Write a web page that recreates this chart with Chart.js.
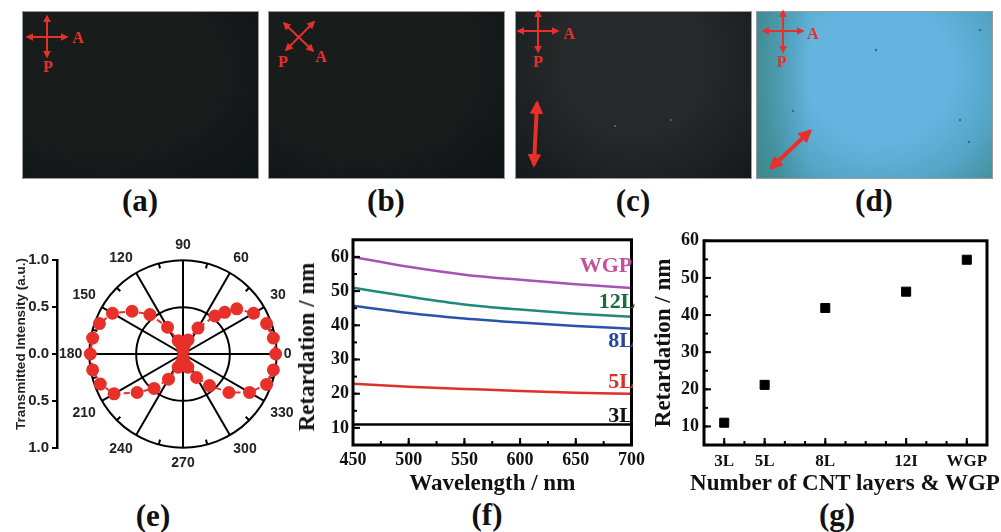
<!DOCTYPE html>
<html>
<head>
<meta charset="utf-8">
<title>Retardation panels</title>
<script src="https://cdn.jsdelivr.net/npm/chart.js@4/dist/chart.umd.min.js"></script>
<style>
html, body { margin: 0; padding: 0; background: #fff; }
#page { position: relative; width: 1001px; height: 532px; overflow: hidden; }
canvas { position: absolute; }
.photo { position: absolute; top: 11px; width: 237px; height: 168px; border: 1px solid #9a9a9a; box-sizing: border-box; }
#photo-a { left: 22px; background: radial-gradient(ellipse at 35% 35%, #181c1b 50%, #0e1316 100%); }
#photo-b { left: 268px; background: radial-gradient(ellipse at 40% 30%, #181c1b 55%, #0e1316 100%); }
#photo-c { left: 515px; background: radial-gradient(ellipse at 50% 30%, #25292a 45%, #15191c 100%); }
#photo-d { left: 756px; background: linear-gradient(90deg, rgba(60,135,135,0.75), rgba(60,135,135,0) 22%), radial-gradient(ellipse 72% 100% at 52% 36%, #64b4e0 42%, #56a6c9 68%, #3c8b94 100%); }
svg { position: absolute; left: 0; top: 0; }
.serif { position: absolute; font-family: "Liberation Serif", serif; font-weight: bold; transform: translate(-50%, -50%); white-space: nowrap; }
.panel { font-size: 31px; color: #111; }
.pol { font-size: 16px; color: #e8302a; }
.curve { font-size: 22px; }
.rot { transform: translate(-50%, -50%) rotate(-90deg); }
#e-title { position: absolute; left: 20px; top: 344px; font: bold 13.5px "Liberation Sans", sans-serif; color: #222; white-space: nowrap; transform: translate(-50%, -50%) rotate(-90deg); }
</style>
</head>
<body>
<div id="page">
  <div class="photo" id="photo-a"></div>
  <div class="photo" id="photo-b"></div>
  <div class="photo" id="photo-c"></div>
  <div class="photo" id="photo-d"></div>

  <svg width="1001" height="532">
    <defs>
      <marker id="head" viewBox="0 0 10 10" refX="8" refY="5" markerWidth="4" markerHeight="4" orient="auto-start-reverse">
        <path d="M0 0 L10 5 L0 10 Z" fill="#e8302a"></path>
      </marker>
      <marker id="big-head" viewBox="0 0 10 10" refX="8" refY="5" markerWidth="3.4" markerHeight="3.4" orient="auto-start-reverse">
        <path d="M0 0 L10 5 L0 10 Z" fill="#e8302a"></path>
      </marker>
    </defs>
    <g stroke="#e8302a" stroke-width="2">
      <line x1="27" y1="37" x2="67" y2="37" marker-start="url(#head)" marker-end="url(#head)"></line>
      <line x1="47" y1="16" x2="47" y2="57" marker-start="url(#head)" marker-end="url(#head)"></line>
      <line x1="284" y1="23" x2="313" y2="51" marker-start="url(#head)" marker-end="url(#head)"></line>
      <line x1="314" y1="22" x2="286" y2="50" marker-start="url(#head)" marker-end="url(#head)"></line>
      <line x1="518" y1="31" x2="558" y2="31" marker-start="url(#head)" marker-end="url(#head)"></line>
      <line x1="538" y1="11" x2="538" y2="52" marker-start="url(#head)" marker-end="url(#head)"></line>
      <line x1="763" y1="31" x2="803" y2="31" marker-start="url(#head)" marker-end="url(#head)"></line>
      <line x1="783" y1="11" x2="783" y2="52" marker-start="url(#head)" marker-end="url(#head)"></line>
    </g>
    <line x1="537" y1="103" x2="534" y2="165" stroke="#e8302a" stroke-width="4" marker-start="url(#big-head)" marker-end="url(#big-head)"></line>
    <line x1="810" y1="131" x2="771" y2="168" stroke="#e8302a" stroke-width="4" marker-start="url(#big-head)" marker-end="url(#big-head)"></line>
    <g fill="#2f6f80">
      <circle cx="876" cy="50" r="1.2"></circle>
      <circle cx="980" cy="30" r="1.2"></circle>
      <circle cx="793" cy="111" r="1.2"></circle>
      <circle cx="960" cy="120" r="1.2"></circle>
      <circle cx="969" cy="142" r="1.2"></circle>
    </g>
    <g fill="#9aa0a0">
      <circle cx="671" cy="120" r="0.8"></circle>
      <circle cx="615" cy="126" r="0.8"></circle>
    </g>
  </svg>

  <span class="serif pol" style="left:78px;top:38px">A</span>
  <span class="serif pol" style="left:48px;top:67px">P</span>
  <span class="serif pol" style="left:321px;top:57px">A</span>
  <span class="serif pol" style="left:283px;top:62px">P</span>
  <span class="serif pol" style="left:569px;top:34px">A</span>
  <span class="serif pol" style="left:538px;top:62px">P</span>
  <span class="serif pol" style="left:813px;top:34px">A</span>
  <span class="serif pol" style="left:782px;top:62px">P</span>

  <span class="serif panel" style="left:140px;top:201px">(a)</span>
  <span class="serif panel" style="left:386px;top:201px">(b)</span>
  <span class="serif panel" style="left:633px;top:201px">(c)</span>
  <span class="serif panel" style="left:874px;top:201px">(d)</span>
  <span class="serif panel" style="left:153px;top:516px">(e)</span>
  <span class="serif panel" style="left:487px;top:515px">(f)</span>
  <span class="serif panel" style="left:837px;top:515px">(g)</span>

  <canvas id="polar-axis" width="60" height="240" style="left:13px;top:234px"></canvas>
  <span id="e-title">Transmitted Intensity (a.u.)</span>
  <canvas id="polar-chart" width="248" height="248" style="left:52px;top:231px"></canvas>
  <canvas id="wavelength-chart" width="355" height="273" style="left:295px;top:225px"></canvas>
  <canvas id="layers-chart" width="351" height="273" style="left:650px;top:225px"></canvas>

  <span class="serif rot" style="left:307px;top:347px;font-size:23px;color:#111">Retardation / nm</span>
  <span class="serif" style="left:845px;top:483px;font-size:23px;color:#111">Number of CNT layers &amp; WGP</span>

  <span class="serif curve" style="left:606px;top:265px;color:#c4509c">WGP</span>
  <span class="serif curve" style="left:617px;top:301px;color:#1d6b3c">12L</span>
  <span class="serif curve" style="left:621px;top:340px;color:#27479c">8L</span>
  <span class="serif curve" style="left:621px;top:381px;color:#d9302c">5L</span>
  <span class="serif curve" style="left:621px;top:415px;color:#111">3L</span>
</div>

<script>
// (e) polar scan, angle in degrees going clockwise from 0 because radar runs clockwise
const polar_angles = [
    0, 355, 350, 345, 340, 335, 330, 325, 320, 315, 310, 305,
    300, 295, 290, 285, 280, 275, 270, 265, 260, 255, 250, 245,
    240, 235, 230, 225, 220, 215, 210, 205, 200, 195, 190, 185,
    180, 175, 170, 165, 160, 155, 150, 145, 140, 135, 130, 125,
    120, 115, 110, 105, 100, 95, 90, 85, 80, 75, 70, 65,
    60, 55, 50, 45, 40, 35, 30, 25, 20, 15, 10, 5
]
const polar_intensity = [
    0.99, null, 0.98, null, 0.95, null, 0.82, null, 0.64, null, 0.44, null,
    0.29, null, 0.15, null, 0.10, null, 0.04, null, 0.10, null, 0.15, null,
    0.31, null, 0.48, null, 0.64, null, 0.85, null, 0.94, null, 0.98, null,
    0.99, null, 0.98, null, 0.95, null, 0.87, null, 0.71, null, 0.55, null,
    0.33, null, 0.15, null, 0.10, null, 0.04, null, 0.10, null, 0.16, null,
    0.32, null, 0.53, 0.63, 0.75, null, 0.87, null, 0.95, null, 0.98, null
]
const polar_minor_angles = [15, 45, 75, 105, 135, 165, 195, 225, 255, 285, 315, 345]
const intensity_ticks = [-1, -0.5, 0, 0.5, 1]

// (f) retardation against wavelength
const wavelengths = [450, 500, 550, 600, 650, 700]
const wgp_values = [60, 57.1, 54.8, 53.3, 52, 50.9]
const l12_values = [51, 48.4, 46.1, 44.6, 43.4, 42.5]
const l8_values = [45.7, 43.6, 42, 40.8, 39.8, 39]
const l5_values = [22.9, 22, 21.4, 20.8, 20.3, 20]
const l3_values = [11, 11, 11, 11, 11, 11]
const retardation_ticks = [10, 20, 30, 40, 50, 60]

// (g) retardation per sample
const layer_positions = [3, 5, 8, 12, 15]
const layer_labels = ['3L', '5L', '8L', '12I', 'WGP']
const layer_values = [11, 21.2, 41.9, 46.3, 54.9]

const red = '#e8302a'
const sans_tick = { family: 'Liberation Sans', weight: 'bold', size: 14 }
const serif_tick = { family: 'Liberation Serif', weight: 'bold', size: 18 }

Chart.defaults.color = '#111'

// origin style frame: full box with major and minor ticks pointing inward
const inside_ticks = {
    id: 'inside_ticks',
    afterDatasetsDraw(chart, args, options) {
        const { ctx, chartArea, scales } = chart
        ctx.save()
        ctx.strokeStyle = '#000'
        ctx.lineWidth = 2
        const draw = (axis, value, length) => {
            ctx.beginPath()
            if (axis === 'x') {
                const px = scales.x.getPixelForValue(value)
                ctx.moveTo(px, chartArea.bottom)
                ctx.lineTo(px, chartArea.bottom - length)
            } else {
                const py = scales.y.getPixelForValue(value)
                ctx.moveTo(chartArea.left, py)
                ctx.lineTo(chartArea.left + length, py)
            }
            ctx.stroke()
        }
        for (let v = scales.x.min; v <= scales.x.max; v += options.x_minor) draw('x', v, 4)
        for (let v = scales.y.min; v <= scales.y.max; v += options.y_minor) draw('y', v, 4)
        scales.x.ticks.forEach(t => draw('x', t.value, 7))
        scales.y.ticks.forEach(t => draw('y', t.value, 7))
        ctx.lineWidth = 3
        ctx.strokeRect(chartArea.left, chartArea.top, chartArea.width, chartArea.height)
        ctx.restore()
    }
}

// small marks on the outer ring of the polar plot
const ring_ticks = {
    id: 'ring_ticks',
    beforeDatasetsDraw(chart) {
        const { ctx } = chart
        const r = chart.scales.r
        ctx.save()
        ctx.strokeStyle = '#000'
        ctx.lineWidth = 2
        polar_minor_angles.forEach(a => {
            const rad = a * Math.PI / 180
            ctx.beginPath()
            ctx.moveTo(r.xCenter + Math.cos(rad) * r.drawingArea, r.yCenter - Math.sin(rad) * r.drawingArea)
            ctx.lineTo(r.xCenter + Math.cos(rad) * (r.drawingArea - 5), r.yCenter - Math.sin(rad) * (r.drawingArea - 5))
            ctx.stroke()
        })
        ctx.restore()
    }
}

function set_ticks(values) {
    return scale => {
        scale.ticks = values.map(value => ({ value }))
    }
}

function load_polar_axis() {
    new Chart(document.getElementById('polar-axis'), {
        type: 'scatter',
        data: { datasets: [] },
        options: {
            responsive: false,
            animation: false,
            layout: { padding: { top: 26, bottom: 26 } },
            plugins: { legend: { display: false } },
            scales: {
                x: { display: false },
                y: {
                    min: -1,
                    max: 1,
                    afterBuildTicks: set_ticks(intensity_ticks),
                    afterFit: scale => { scale.width = 44 },
                    border: { color: '#000', width: 2.5 },
                    grid: { drawOnChartArea: false, color: '#000', tickLength: 5, lineWidth: 2 },
                    ticks: {
                        font: { family: 'Liberation Sans', weight: 'bold', size: 15 },
                        padding: 3,
                        color: '#222',
                        callback: value => Math.abs(value).toFixed(1)
                    }
                }
            }
        }
    })
}

function load_polar_chart() {
    new Chart(document.getElementById('polar-chart'), {
        type: 'radar',
        data: {
            labels: polar_angles,
            datasets: [{
                data: polar_intensity,
                borderColor: red,
                borderWidth: 2,
                borderDash: [6, 4],
                backgroundColor: red,
                fill: false,
                spanGaps: true,
                pointRadius: 5.5,
                pointBackgroundColor: red,
                pointBorderColor: red
            }]
        },
        options: {
            responsive: false,
            animation: false,
            plugins: { legend: { display: false }, tooltip: { enabled: false } },
            scales: {
                r: {
                    min: 0,
                    max: 1,
                    startAngle: 90,
                    ticks: { display: false, stepSize: 0.5 },
                    grid: { circular: true, color: '#000', lineWidth: 2 },
                    angleLines: {
                        color: '#000',
                        lineWidth: context => context.label ? 2 : 0
                    },
                    pointLabels: {
                        display: true,
                        padding: 7,
                        color: '#222',
                        font: sans_tick,
                        callback: value => value % 30 === 0 ? String(value) : ''
                    }
                }
            }
        },
        plugins: [ring_ticks]
    })
}

function line_dataset(values, color) {
    return {
        data: wavelengths.map((x, i) => ({ x, y: values[i] })),
        borderColor: color,
        borderWidth: 2.5,
        pointRadius: 0,
        cubicInterpolationMode: 'monotone',
        fill: false
    }
}

function load_wavelength_chart() {
    new Chart(document.getElementById('wavelength-chart'), {
        type: 'line',
        data: {
            datasets: [
                line_dataset(wgp_values, '#a553b4'),
                line_dataset(l12_values, '#1f8a7a'),
                line_dataset(l8_values, '#2a52aa'),
                line_dataset(l5_values, '#e0302c'),
                line_dataset(l3_values, '#000000')
            ]
        },
        options: {
            responsive: false,
            animation: false,
            layout: { padding: { top: 12, right: 11 } },
            plugins: {
                legend: { display: false },
                inside_ticks: { x_minor: 25, y_minor: 5 }
            },
            scales: {
                x: {
                    type: 'linear',
                    min: 450,
                    max: 700,
                    afterBuildTicks: set_ticks(wavelengths),
                    afterFit: scale => { scale.height = 53 },
                    border: { display: false },
                    grid: { display: false, drawTicks: false },
                    ticks: { font: serif_tick, padding: 5, maxRotation: 0, autoSkip: false },
                    title: {
                        display: true,
                        text: 'Wavelength / nm',
                        font: { family: 'Liberation Serif', weight: 'bold', size: 23 },
                        padding: 0
                    }
                },
                y: {
                    min: 5,
                    max: 65,
                    afterBuildTicks: set_ticks(retardation_ticks),
                    afterFit: scale => { scale.width = 58 },
                    border: { display: false },
                    grid: { display: false, drawTicks: false },
                    ticks: { font: serif_tick, padding: 4 }
                }
            }
        },
        plugins: [inside_ticks]
    })
}

function load_layers_chart() {
    new Chart(document.getElementById('layers-chart'), {
        type: 'scatter',
        data: {
            datasets: [{
                data: layer_positions.map((x, i) => ({ x, y: layer_values[i] })),
                pointStyle: 'rect',
                pointRadius: 6.4,
                backgroundColor: '#000',
                borderColor: '#000'
            }]
        },
        options: {
            responsive: false,
            animation: false,
            layout: { padding: { top: 15, right: 14 } },
            plugins: {
                legend: { display: false },
                tooltip: { enabled: false },
                inside_ticks: { x_minor: 1, y_minor: 5 }
            },
            scales: {
                x: {
                    min: 2,
                    max: 16,
                    afterBuildTicks: set_ticks(layer_positions),
                    afterFit: scale => { scale.height = 53 },
                    border: { display: false },
                    grid: { display: false, drawTicks: false },
                    ticks: {
                        font: { family: 'Liberation Serif', weight: 'bold', size: 17 },
                        padding: 6,
                        maxRotation: 0,
                        autoSkip: false,
                        callback: value => layer_labels[layer_positions.indexOf(value)]
                    }
                },
                y: {
                    min: 5,
                    max: 60,
                    afterBuildTicks: set_ticks(retardation_ticks),
                    afterFit: scale => { scale.width = 54 },
                    border: { display: false },
                    grid: { display: false, drawTicks: false },
                    ticks: { font: serif_tick, padding: 5 },
                    title: {
                        display: true,
                        text: 'Retardation / nm',
                        font: { family: 'Liberation Serif', weight: 'bold', size: 23 },
                        padding: 0
                    }
                }
            }
        },
        plugins: [inside_ticks]
    })
}

load_polar_axis()
load_polar_chart()
load_wavelength_chart()
load_layers_chart()
</script>
</body>
</html>
